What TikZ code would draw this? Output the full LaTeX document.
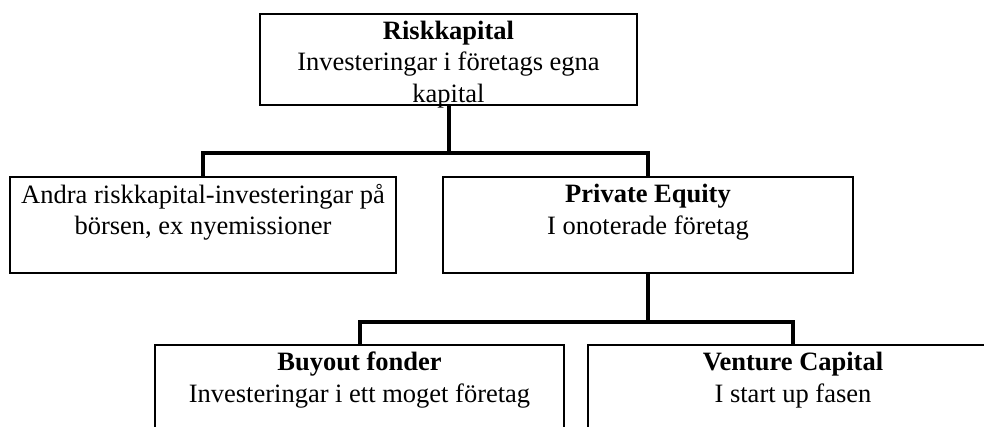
\documentclass[tikz,border=0pt]{standalone}
\usepackage{fontspec}
\setmainfont{Liberation Serif}
\begin{document}
\begin{tikzpicture}[x=1pt,y=-1pt,
  box/.style={draw=black,line width=1.6pt,fill=white,inner sep=0pt,align=center,
    font=\fontsize{26.5}{31.5}\selectfont},
  conn/.style={draw=black,line width=4pt,line join=miter}]
\path[use as bounding box,clip] (0,0) rectangle (984,427);
\node[box,minimum width=377pt,minimum height=91pt] (top) at (448.5,59.5)
  {\raisebox{-11pt}[0pt][0pt]{\begin{tabular}{@{}c@{}}\textbf{Riskkapital}\\Investeringar i företags egna\\kapital\end{tabular}}};
\node[box,minimum width=386pt,minimum height=96pt] (left) at (203,225)
  {Andra riskkapital-investeringar på\\börsen, ex nyemissioner\\ \mbox{}};
\node[box,minimum width=410pt,minimum height=96pt] (pe) at (648,225)
  {\textbf{Private Equity}\\I onoterade företag\\ \mbox{}};
\node[box,minimum width=409pt,minimum height=96pt] (buy) at (359.5,393)
  {\textbf{Buyout fonder}\\Investeringar i ett moget företag\\ \mbox{}};
\node[box,minimum width=410pt,minimum height=96pt] (ven) at (793,393)
  {\textbf{Venture Capital}\\I start up fasen\\ \mbox{}};
\coordinate (b1) at (444,153);
\coordinate (b2) at (648,322);
\draw[conn] (top.south) -- (top.south |- b1);
\draw[conn] (left.north) |- (b1) -| (pe.north);
\draw[conn] (pe.south) -- (b2);
\draw[conn] (buy.north) |- (b2) -| (ven.north);
\end{tikzpicture}
\end{document}
